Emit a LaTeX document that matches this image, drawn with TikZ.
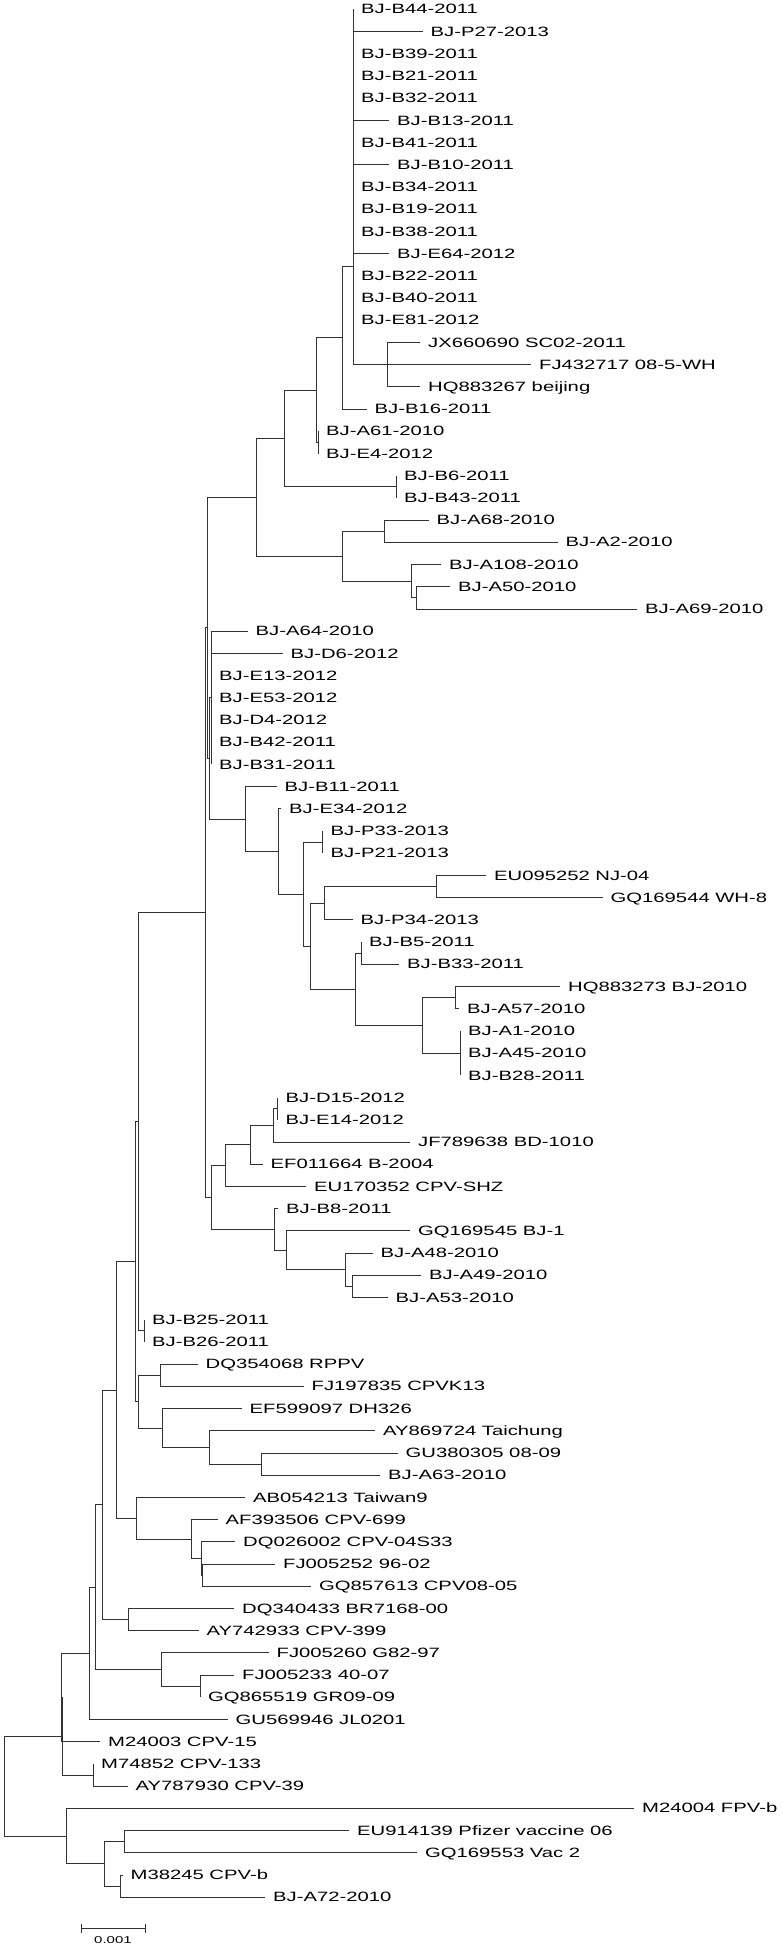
\documentclass[tikz,border=0pt]{standalone}
\usepackage{fontspec}
\newfontfamily\treefont{Liberation Sans}[FakeStretch=1.5]
\usetikzlibrary{positioning}

\tikzset{
  taxon/.style={anchor=west,inner xsep=8pt,inner ysep=0pt,text height=9.3pt,text depth=0pt,
    font=\treefont\fontsize{13.5pt}{14pt}\selectfont},
  branch/.style={line width=0.9pt,draw=black!80},
}

\begin{document}
\begin{tikzpicture}[x=1pt,y=-1pt,line join=miter]
\useasboundingbox (0,0) rectangle (782,1948);
% taxa: index / branch end / label
\foreach \i/\xe/\lab in {
 1/353/BJ-B44-2011, 2/422.5/BJ-P27-2013, 3/353/BJ-B39-2011, 4/353/BJ-B21-2011,
 5/353/BJ-B32-2011, 6/389/BJ-B13-2011, 7/353/BJ-B41-2011, 8/389/BJ-B10-2011,
 9/353/BJ-B34-2011, 10/353/BJ-B19-2011, 11/353/BJ-B38-2011, 12/389/BJ-E64-2012,
 13/353/BJ-B22-2011, 14/353/BJ-B40-2011, 15/353/BJ-E81-2012, 16/420/JX660690 SC02-2011,
 17/531/FJ432717 08-5-WH, 18/420/HQ883267 beijing, 19/366.5/BJ-B16-2011, 20/318/BJ-A61-2010,
 21/318/BJ-E4-2012, 22/396/BJ-B6-2011, 23/396/BJ-B43-2011, 24/428.5/BJ-A68-2010,
 25/557.5/BJ-A2-2010, 26/441/BJ-A108-2010, 27/450/BJ-A50-2010, 28/637/BJ-A69-2010,
 29/247.5/BJ-A64-2010, 30/282.5/BJ-D6-2012, 31/211/BJ-E13-2012, 32/211/BJ-E53-2012,
 33/211/BJ-D4-2012, 34/211/BJ-B42-2011, 35/211/BJ-B31-2011, 36/276.5/BJ-B11-2011,
 37/281/BJ-E34-2012, 38/322.5/BJ-P33-2013, 39/322.5/BJ-P21-2013, 40/486/EU095252 NJ-04,
 41/602.5/GQ169544 WH-8, 42/352.5/BJ-P34-2013, 43/361/BJ-B5-2011, 44/399/BJ-B33-2011,
 45/560/HQ883273 BJ-2010, 46/459/BJ-A57-2010, 47/460/BJ-A1-2010, 48/460/BJ-A45-2010,
 49/460/BJ-B28-2011, 50/277.5/BJ-D15-2012, 51/277.5/BJ-E14-2012, 52/410/JF789638 BD-1010,
 53/262.5/EF011664 B-2004, 54/306/EU170352 CPV-SHZ, 55/278/BJ-B8-2011, 56/410/GQ169545 BJ-1,
 57/372.5/BJ-A48-2010, 58/421/BJ-A49-2010, 59/387.5/BJ-A53-2010, 60/144/BJ-B25-2011,
 61/144/BJ-B26-2011, 62/197.5/DQ354068 RPPV, 63/303.5/FJ197835 CPVK13, 64/241.5/EF599097 DH326,
 65/375/AY869724 Taichung, 66/397.5/GU380305 08-09, 67/380/BJ-A63-2010, 68/245/AB054213 Taiwan9,
 69/217.5/AF393506 CPV-699, 70/235/DQ026002 CPV-04S33, 71/275/FJ005252 96-02, 72/311/GQ857613 CPV08-05,
 73/234/DQ340433 BR7168-00, 74/198.5/AY742933 CPV-399, 75/268.5/FJ005260 G82-97, 76/234/FJ005233 40-07,
 77/200/GQ865519 GR09-09, 78/227.5/GU569946 JL0201, 79/100/M24003 CPV-15, 80/93/M74852 CPV-133,
 81/127.5/AY787930 CPV-39, 82/634/M24004 FPV-b, 83/349/EU914139 Pfizer vaccine 06, 84/417/GQ169553 Vac 2,
 85/122.5/M38245 CPV-b, 86/265/BJ-A72-2010}{
  \pgfmathsetmacro\yy{9.3+22.21*(\i-1)}
  \node[taxon] (t\i) at (\xe,\yy) {\lab};
}
% inner nodes
\coordinate (nA) at (353,266);
\coordinate (nB) at (387.5,364.66);
\coordinate (nC) at (342.5,337.54);
\coordinate (nE) at (318,442.4);
\coordinate (nD) at (316.5,389.97);
\coordinate (nG) at (396,486.82);
\coordinate (nF) at (284,438.4);
\coordinate (nJ) at (384,531.24);
\coordinate (nL) at (416.5,597.87);
\coordinate (nK) at (411,581.21);
\coordinate (nI) at (342.5,556.23);
\coordinate (nH) at (256,497.31);
\coordinate (nN2) at (211,697.81);
\coordinate (nU) at (322.5,842.18);
\coordinate (nX) at (436,886.6);
\coordinate (nW) at (324,903.26);
\coordinate (nZ) at (361,953.23);
\coordinate (nAB) at (455,997.65);
\coordinate (nAC) at (460,1053.17);
\coordinate (nAA) at (422.5,1025.41);
\coordinate (nY) at (355,989.32);
\coordinate (nV) at (310,946.29);
\coordinate (nT) at (303.5,894.24);
\coordinate (nS) at (278.5,851.55);
\coordinate (nR) at (245,819.1);
\coordinate (nN1) at (209,758.46);
\coordinate (nM1) at (207.5,627.89);
\coordinate (nAD) at (277.5,1108.7);
\coordinate (nAE) at (273.5,1125.36);
\coordinate (nAF) at (250,1144.79);
\coordinate (nAG) at (225,1165.61);
\coordinate (nAL) at (352,1286.38);
\coordinate (nAK) at (345,1269.72);
\coordinate (nAJ) at (286.5,1250.29);
\coordinate (nAI) at (274,1229.47);
\coordinate (nAH) at (211,1197.54);
\coordinate (nM) at (205,912.72);
\coordinate (nBB) at (144,1330.8);
\coordinate (nP1) at (138.5,1121.76);
\coordinate (nDQ) at (160,1375.22);
\coordinate (nP6) at (261.5,1464.06);
\coordinate (nP5) at (209,1447.4);
\coordinate (nP4) at (162.5,1427.97);
\coordinate (nP3) at (138.5,1401.6);
\coordinate (nP2) at (135,1261.68);
\coordinate (nP11) at (202.5,1575.1);
\coordinate (nP10) at (201,1558.45);
\coordinate (nP9) at (191,1539.02);
\coordinate (nP8) at (136.5,1518.2);
\coordinate (nP7) at (116.5,1389.94);
\coordinate (nP13) at (128.5,1619.53);
\coordinate (nP12) at (102.5,1504.74);
\coordinate (nP16) at (200,1686.16);
\coordinate (nP15) at (161.5,1669.5);
\coordinate (nP14) at (95,1587.12);
\coordinate (nP17) at (89.5,1653.3);
\coordinate (nP18a) at (61,1697.49);
\coordinate (nP19) at (93,1775);
\coordinate (nP18) at (62,1736.25);
\coordinate (nP22) at (124,1841.63);
\coordinate (nP23) at (120.5,1886.05);
\coordinate (nP21) at (104,1863.84);
\coordinate (nP20) at (66.5,1836.08);
\coordinate (root) at (4.5,1786.17);
% branches to taxa
\foreach \p/\c in {nA/1,nA/2,nA/3,nA/4,nA/5,nA/6,nA/7,nA/8,nA/9,nA/10,nA/11,nA/12,nA/13,nA/14,nA/15,
  nB/16,nB/17,nB/18,nC/19,nE/20,nE/21,nG/22,nG/23,nJ/24,nJ/25,nK/26,nL/27,nL/28,
  nN2/29,nN2/30,nN2/31,nN2/32,nN2/33,nN2/34,nN2/35,nR/36,nS/37,nU/38,nU/39,nX/40,nX/41,
  nW/42,nZ/43,nZ/44,nAB/45,nAB/46,nAC/47,nAC/48,nAC/49,nAD/50,nAD/51,nAE/52,nAF/53,
  nAG/54,nAI/55,nAJ/56,nAK/57,nAL/58,nAL/59,nBB/60,nBB/61,nDQ/62,nDQ/63,nP4/64,nP5/65,
  nP6/66,nP6/67,nP8/68,nP9/69,nP10/70,nP11/71,nP11/72,nP13/73,nP13/74,nP15/75,nP16/76,
  nP16/77,nP17/78,nP18a/79,nP19/80,nP19/81,nP20/82,nP22/83,nP22/84,nP23/85,nP23/86}
  \draw[branch] (\p) |- (t\c.west);
% branches between inner nodes
\foreach \p/\c in {nA/nB,nC/nA,nD/nC,nD/nE,nF/nD,nF/nG,nI/nJ,nI/nK,nK/nL,nH/nF,nH/nI,
  nW/nX,nAA/nAB,nAA/nAC,nY/nZ,nY/nAA,nV/nW,nV/nY,nT/nU,nT/nV,nS/nT,nR/nS,nN1/nN2,nN1/nR,
  nM1/nH,nM1/nN1,nAE/nAD,nAF/nAE,nAG/nAF,nAK/nAL,nAJ/nAK,nAI/nAJ,nAH/nAG,nAH/nAI,
  nM/nM1,nM/nAH,nP1/nM,nP1/nBB,nP5/nP6,nP4/nP5,nP3/nDQ,nP3/nP4,nP2/nP1,nP2/nP3,
  nP10/nP11,nP9/nP10,nP8/nP9,nP7/nP2,nP7/nP8,nP12/nP7,nP12/nP13,nP15/nP16,nP14/nP12,
  nP14/nP15,nP17/nP14,nP18a/nP17,nP18/nP18a,nP18/nP19,nP21/nP22,nP21/nP23,nP20/nP21,
  root/nP18,root/nP20}
  \draw[branch] (\p) |- (\c);
% scale bar
\coordinate (sbl) at (81,1928.3);
\coordinate (sbr) at (145,1928.3);
\draw[branch] (sbl) -- (sbr);
\draw[branch] ([yshift=-4.5pt]sbl) -- ([yshift=4.5pt]sbl);
\draw[branch] ([yshift=-4.5pt]sbr) -- ([yshift=4.5pt]sbr);
\node[font=\treefont\fontsize{10pt}{11pt}\selectfont,inner sep=0pt,anchor=north] (sbt) at (113,1936) {0.001};
\end{tikzpicture}
\end{document}
